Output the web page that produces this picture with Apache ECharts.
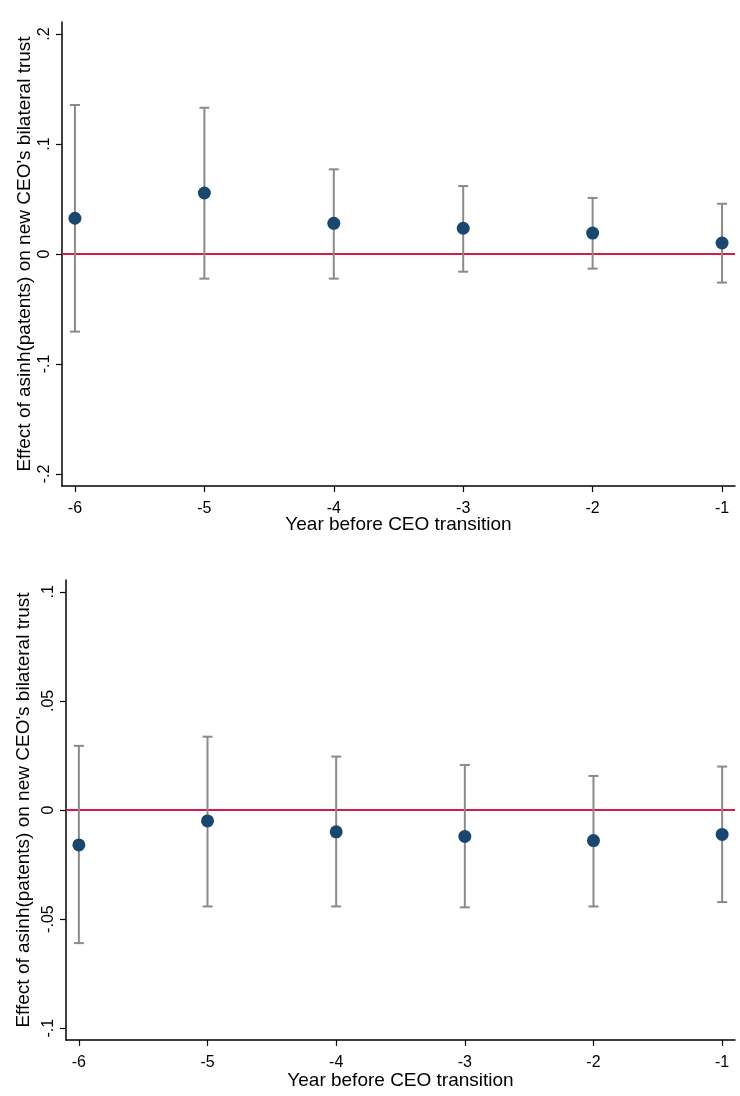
<!DOCTYPE html>
<html>
<head>
<meta charset="utf-8">
<script src="https://cdn.jsdelivr.net/npm/echarts@6/dist/echarts.min.js"></script>
<style>
  html, body { margin: 0; padding: 0; background: #fff; }
  #chart { width: 740px; height: 1096px; }
</style>
</head>
<body>
<div id="chart"></div>
<script>
// Event-study estimates: years relative to the CEO transition
const years = [-6, -5, -4, -3, -2, -1];
const xTicks = [-6, -5, -4, -3, -2, -1];

// Upper panel: point estimates with 95% confidence bounds
const topCoef = [0.0325, 0.0555, 0.0279, 0.0234, 0.0190, 0.0100];
const topLo   = [-0.0706, -0.0224, -0.0224, -0.0161, -0.0133, -0.0260];
const topHi   = [0.1355, 0.1330, 0.0770, 0.0618, 0.0510, 0.0457];
const topYTicks = [-0.2, -0.1, 0, 0.1, 0.2];

// Lower panel: point estimates with 95% confidence bounds
const botCoef = [-0.0160, -0.0050, -0.0100, -0.0121, -0.0140, -0.0112];
const botLo   = [-0.0610, -0.0442, -0.0442, -0.0446, -0.0442, -0.0422];
const botHi   = [0.0294, 0.0336, 0.0245, 0.0206, 0.0156, 0.0199];
const botYTicks = [-0.1, -0.05, 0, 0.05, 0.1];

const yTitle = "Effect of asinh(patents) on new CEO's bilateral trust";
const xTitle = 'Year before CEO transition';

const FONT = '"Liberation Sans", Arial, sans-serif';
const MARKER = '#1a476f';
const BAR = '#8a8a8a';
const ZERO = '#d31a48';

// Stata-style number labels: ".2", "-.05", "0"
function stataNum(v) {
  const r = Math.round(v * 1000) / 1000;
  if (r === 0) return '0';
  return String(r).replace(/^(-?)0\./, '$1.');
}

function xAxisCfg(gridIndex, nameGap) {
  return {
    type: 'value', gridIndex: gridIndex,
    min: -6.1, max: -0.9,
    name: xTitle, nameLocation: 'middle', nameGap: nameGap, nameMoveOverlap: false,
    nameTextStyle: { fontFamily: FONT, fontSize: 19, color: '#000' },
    axisLine: { show: true, onZero: false, lineStyle: { color: '#000', width: 1.5 } },
    axisTick: { show: true, length: 6, customValues: xTicks, lineStyle: { color: '#000', width: 1.2 } },
    axisLabel: { customValues: xTicks, fontFamily: FONT, fontSize: 16, color: '#000', margin: 15,
                 formatter: v => String(v) },
    splitLine: { show: false }
  };
}

function yAxisCfg(gridIndex, lim, ticks, nameGap) {
  return {
    type: 'value', gridIndex: gridIndex,
    min: -lim, max: lim,
    name: yTitle, nameLocation: 'middle', nameGap: nameGap, nameRotate: 90, nameMoveOverlap: false,
    nameTextStyle: { fontFamily: FONT, fontSize: 19, color: '#000' },
    axisLine: { show: true, onZero: false, lineStyle: { color: '#000', width: 1.5 } },
    axisTick: { show: true, length: 6, customValues: ticks, lineStyle: { color: '#000', width: 1.2 } },
    axisLabel: { customValues: ticks, rotate: 90, align: 'center', verticalAlign: 'bottom',
                 fontFamily: FONT, fontSize: 16, color: '#000', margin: 9,
                 formatter: v => stataNum(v) },
    splitLine: { show: false }
  };
}

// Vertical confidence-interval bars with end caps
function ciSeries(idx, lo, hi) {
  return {
    type: 'custom', xAxisIndex: idx, yAxisIndex: idx, z: 3,
    data: years.map((y, i) => [y, lo[i], hi[i]]),
    renderItem: function (params, api) {
      const x = api.value(0);
      const pLo = api.coord([x, api.value(1)]);
      const pHi = api.coord([x, api.value(2)]);
      const cap = 5;
      const style = { stroke: BAR, lineWidth: 2 };
      return {
        type: 'group',
        children: [
          { type: 'line', shape: { x1: pLo[0], y1: pLo[1], x2: pHi[0], y2: pHi[1] }, style: style },
          { type: 'line', shape: { x1: pLo[0] - cap, y1: pLo[1], x2: pLo[0] + cap, y2: pLo[1] }, style: style },
          { type: 'line', shape: { x1: pHi[0] - cap, y1: pHi[1], x2: pHi[0] + cap, y2: pHi[1] }, style: style }
        ]
      };
    }
  };
}

function pointSeries(idx, coef) {
  return {
    type: 'scatter', xAxisIndex: idx, yAxisIndex: idx, z: 4,
    symbol: 'circle', symbolSize: 13,
    itemStyle: { color: MARKER, opacity: 1 },
    data: years.map((y, i) => [y, coef[i]]),
    markLine: {
      silent: true, symbol: 'none', z: 1,
      label: { show: false },
      lineStyle: { color: ZERO, width: 2, type: 'solid' },
      data: [{ yAxis: 0 }]
    }
  };
}

const chart = echarts.init(document.getElementById('chart'), null, { renderer: 'canvas' });
chart.setOption({
  backgroundColor: '#fff',
  animation: false,
  grid: [
    { left: 62, top: 22, right: 5, height: 464 },
    { left: 66, top: 580, right: 5, height: 460 }
  ],
  xAxis: [xAxisCfg(0, 29), xAxisCfg(1, 31)],
  yAxis: [yAxisCfg(0, 0.211, topYTicks, 28), yAxisCfg(1, 0.1054, botYTicks, 33)],
  series: [
    ciSeries(0, topLo, topHi),
    pointSeries(0, topCoef),
    ciSeries(1, botLo, botHi),
    pointSeries(1, botCoef)
  ]
});
</script>
</body>
</html>
